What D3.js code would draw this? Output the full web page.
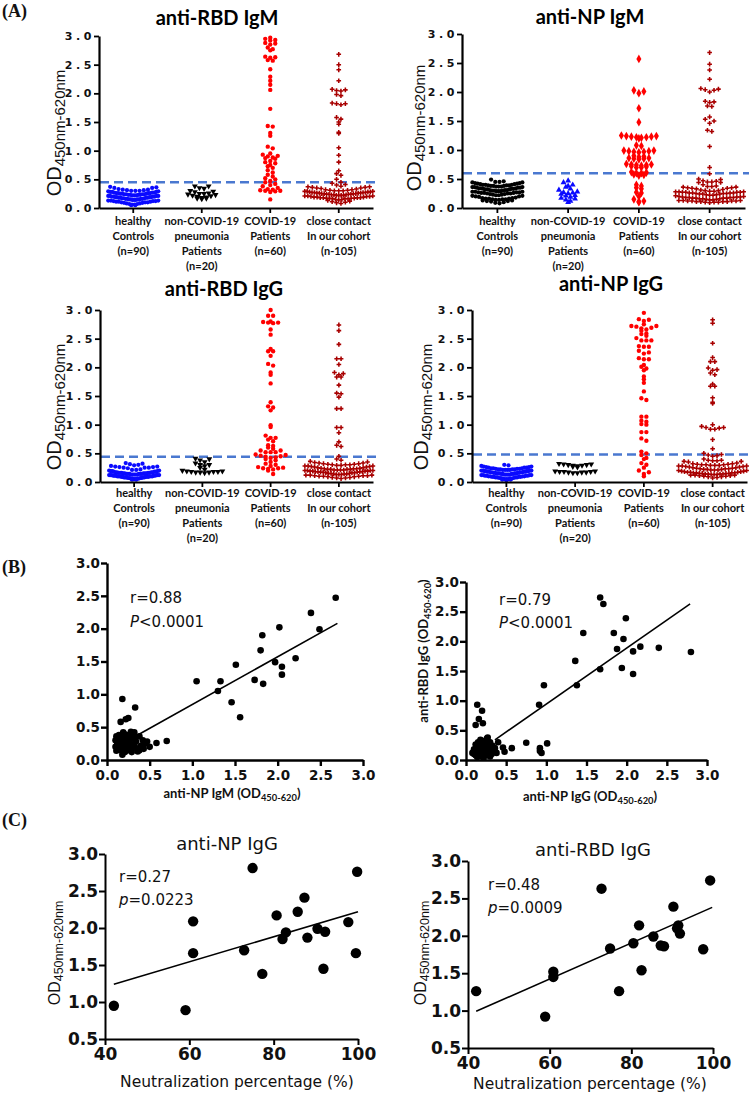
<!DOCTYPE html>
<html><head><meta charset="utf-8">
<script src="https://cdn.jsdelivr.net/npm/d3@7"></script>
<style>body{margin:0;background:#fff}svg{display:block}</style>
</head><body><script>
// ---------------- DATA ----------------
const categories = ["healthy", "nonCovid", "covid", "close"];
const catLabels = [
  ["healthy", "Controls", "(n=90)"],
  ["non-COVID-19", "pneumonia", "Patients", "(n=20)"],
  ["COVID-19", "Patients", "(n=60)"],
  ["close contact", "In our cohort", "(n-105)"]
];
const panelTitles = ["anti-RBD IgM", "anti-NP IgM", "anti-RBD IgG", "anti-NP IgG"];
const cutoffs = [0.45, 0.60, 0.44, 0.48];
const yTicksA = [0, 0.5, 1.0, 1.5, 2.0, 2.5, 3.0];

// anti-RBD IgM
const a1Healthy = [0.37,0.36,0.35,0.35,0.33,0.32,0.32,0.31,0.31,0.30,0.30,0.30,0.29,0.29,0.28,0.28,0.28,0.27,0.27,0.27,0.26,0.26,0.26,0.26,0.25,0.25,0.25,0.24,0.24,0.24,0.24,0.23,0.23,0.23,0.23,0.22,0.22,0.22,0.21,0.21,0.21,0.21,0.20,0.20,0.20,0.20,0.19,0.19,0.19,0.19,0.18,0.18,0.18,0.18,0.17,0.17,0.17,0.16,0.16,0.16,0.16,0.15,0.15,0.15,0.15,0.14,0.14,0.14,0.13,0.13,0.13,0.12,0.12,0.12,0.11,0.11,0.11,0.10,0.10,0.10,0.09,0.09,0.08,0.08,0.07,0.07,0.06,0.06,0.05,0.05];
const a1NonCovid = [0.38,0.38,0.35,0.34,0.30,0.29,0.28,0.26,0.25,0.25,0.24,0.23,0.22,0.21,0.20,0.19,0.18,0.17,0.17,0.16];
const a1Covid = [2.97,2.95,2.93,2.92,2.88,2.87,2.85,2.80,2.77,2.75,2.64,2.63,2.62,2.58,2.57,2.42,2.29,2.22,2.15,2.06,1.73,1.43,1.42,1.31,1.26,1.07,1.04,0.95,0.93,0.91,0.90,0.88,0.87,0.86,0.82,0.80,0.78,0.75,0.73,0.70,0.66,0.62,0.58,0.55,0.52,0.50,0.47,0.45,0.42,0.40,0.38,0.35,0.33,0.32,0.31,0.30,0.30,0.29,0.28,0.15];
const a1Close = [2.68,2.50,2.41,2.22,2.07,2.06,2.05,2.04,1.98,1.96,1.83,1.82,1.82,1.80,1.58,1.55,1.50,1.46,1.32,1.30,1.05,0.92,0.80,0.65,0.60,0.57,0.50,0.45,0.43,0.41,0.40,0.38,0.37,0.37,0.36,0.36,0.35,0.35,0.34,0.33,0.32,0.32,0.31,0.31,0.30,0.30,0.30,0.29,0.29,0.29,0.28,0.28,0.28,0.27,0.27,0.27,0.27,0.26,0.26,0.26,0.26,0.25,0.25,0.25,0.25,0.24,0.24,0.24,0.24,0.23,0.23,0.23,0.22,0.22,0.22,0.22,0.21,0.21,0.21,0.20,0.20,0.20,0.19,0.19,0.19,0.18,0.18,0.18,0.18,0.17,0.17,0.17,0.17,0.16,0.16,0.16,0.15,0.15,0.14,0.13,0.12,0.11,0.10,0.09,0.08];

// anti-NP IgM
const a2Healthy = [0.49,0.46,0.45,0.45,0.44,0.44,0.43,0.43,0.42,0.42,0.41,0.41,0.40,0.40,0.40,0.39,0.39,0.39,0.38,0.38,0.38,0.37,0.37,0.37,0.36,0.36,0.36,0.35,0.35,0.35,0.34,0.34,0.34,0.33,0.33,0.33,0.32,0.32,0.32,0.31,0.31,0.31,0.30,0.30,0.30,0.29,0.29,0.29,0.28,0.28,0.28,0.27,0.27,0.27,0.26,0.26,0.26,0.25,0.25,0.25,0.24,0.24,0.23,0.23,0.22,0.22,0.21,0.21,0.20,0.20,0.19,0.18,0.17,0.17,0.16,0.16,0.16,0.15,0.15,0.15,0.14,0.14,0.13,0.13,0.12,0.12,0.11,0.10,0.09,0.08];
const a2NonCovid = [0.47,0.44,0.40,0.38,0.36,0.33,0.31,0.28,0.27,0.26,0.25,0.24,0.22,0.21,0.19,0.17,0.16,0.14,0.12,0.10];
const a2Covid = [2.57,2.03,2.01,1.98,1.72,1.48,1.25,1.24,1.24,1.23,1.23,1.22,1.22,1.21,1.20,1.08,1.07,0.99,0.99,0.98,0.98,0.97,0.97,0.96,0.90,0.89,0.88,0.86,0.86,0.85,0.85,0.84,0.76,0.75,0.75,0.74,0.74,0.73,0.72,0.71,0.70,0.70,0.62,0.61,0.60,0.60,0.58,0.57,0.56,0.40,0.38,0.35,0.33,0.27,0.26,0.20,0.15,0.12,0.11,0.10];
const a2Close = [2.68,2.48,2.38,2.22,2.06,2.05,2.04,2.03,2.00,1.84,1.83,1.82,1.76,1.75,1.57,1.53,1.50,1.46,1.34,1.32,1.06,0.70,0.59,0.50,0.49,0.47,0.46,0.45,0.45,0.44,0.44,0.40,0.38,0.37,0.37,0.36,0.36,0.35,0.35,0.34,0.34,0.33,0.31,0.30,0.30,0.29,0.29,0.28,0.28,0.28,0.27,0.27,0.27,0.27,0.26,0.26,0.26,0.26,0.25,0.25,0.25,0.24,0.24,0.23,0.23,0.22,0.20,0.20,0.19,0.19,0.19,0.18,0.18,0.18,0.18,0.17,0.17,0.17,0.17,0.16,0.16,0.16,0.14,0.13,0.13,0.13,0.12,0.12,0.12,0.12,0.11,0.11,0.11,0.11,0.10,0.10,0.10,0.09,0.15,0.15,0.14,0.21,0.22,0.24,0.32];

// anti-RBD IgG
const a3Healthy = [0.33,0.32,0.31,0.30,0.29,0.28,0.27,0.27,0.26,0.26,0.25,0.25,0.25,0.24,0.22,0.21,0.21,0.20,0.20,0.19,0.19,0.19,0.18,0.18,0.18,0.17,0.17,0.17,0.17,0.16,0.16,0.16,0.16,0.15,0.15,0.15,0.15,0.15,0.14,0.14,0.14,0.14,0.14,0.13,0.13,0.13,0.13,0.13,0.12,0.12,0.12,0.12,0.12,0.11,0.11,0.11,0.11,0.11,0.10,0.10,0.10,0.10,0.10,0.10,0.09,0.09,0.09,0.09,0.09,0.08,0.08,0.08,0.08,0.08,0.07,0.07,0.07,0.07,0.06,0.06,0.06,0.06,0.05,0.05,0.05,0.04,0.04,0.12,0.14,0.16];
const a3NonCovid = [0.41,0.40,0.38,0.35,0.33,0.30,0.30,0.28,0.25,0.22,0.20,0.19,0.19,0.18,0.18,0.18,0.17,0.17,0.17,0.16];
const a3Covid = [3.00,2.90,2.90,2.80,2.79,2.78,2.78,2.77,2.66,2.57,2.32,2.28,2.28,2.20,2.06,2.03,1.91,1.87,1.72,1.39,1.32,1.30,1.25,0.99,0.96,0.81,0.77,0.77,0.74,0.71,0.64,0.63,0.60,0.58,0.55,0.55,0.52,0.52,0.52,0.48,0.47,0.46,0.45,0.44,0.43,0.42,0.40,0.38,0.35,0.32,0.30,0.28,0.26,0.25,0.24,0.24,0.23,0.22,0.20,0.14];
const a3Close = [2.74,2.64,2.40,2.15,2.15,2.05,1.91,1.89,1.87,1.83,1.83,1.69,1.55,1.54,1.48,1.28,1.28,0.95,0.95,0.86,0.70,0.64,0.62,0.45,0.40,0.38,0.36,0.35,0.34,0.33,0.33,0.32,0.32,0.31,0.31,0.30,0.30,0.30,0.29,0.29,0.28,0.28,0.28,0.27,0.27,0.26,0.26,0.25,0.25,0.24,0.24,0.23,0.23,0.23,0.22,0.22,0.22,0.22,0.21,0.21,0.21,0.21,0.20,0.20,0.20,0.20,0.19,0.19,0.19,0.19,0.18,0.18,0.18,0.18,0.17,0.17,0.17,0.16,0.16,0.16,0.15,0.15,0.15,0.14,0.14,0.14,0.13,0.13,0.13,0.12,0.12,0.12,0.11,0.11,0.11,0.10,0.10,0.10,0.09,0.09,0.08,0.08,0.07,0.07,0.06];

// anti-NP IgG
const a4Healthy = [0.30,0.29,0.28,0.27,0.27,0.26,0.26,0.25,0.25,0.25,0.24,0.24,0.24,0.23,0.23,0.23,0.22,0.22,0.22,0.22,0.21,0.21,0.21,0.21,0.20,0.20,0.20,0.20,0.19,0.19,0.19,0.19,0.18,0.18,0.18,0.18,0.17,0.17,0.17,0.17,0.16,0.16,0.16,0.16,0.15,0.15,0.15,0.15,0.14,0.14,0.14,0.14,0.13,0.13,0.13,0.13,0.12,0.12,0.12,0.12,0.11,0.11,0.11,0.11,0.10,0.10,0.10,0.10,0.09,0.09,0.09,0.09,0.08,0.08,0.08,0.08,0.07,0.07,0.07,0.06,0.06,0.06,0.05,0.05,0.05,0.04,0.04,0.03,0.13,0.15];
const a4NonCovid = [0.32,0.31,0.31,0.30,0.30,0.29,0.29,0.28,0.27,0.26,0.19,0.19,0.18,0.18,0.18,0.17,0.17,0.17,0.16,0.16];
const a4Covid = [2.95,2.84,2.83,2.81,2.75,2.72,2.72,2.71,2.69,2.68,2.66,2.64,2.59,2.58,2.55,2.51,2.47,2.47,2.47,2.37,2.36,2.36,2.29,2.26,2.24,2.16,2.14,2.14,2.04,2.01,1.98,1.95,1.84,1.79,1.73,1.58,1.46,1.43,1.14,1.14,1.07,1.05,1.01,1.00,0.87,0.87,0.76,0.72,0.53,0.47,0.42,0.40,0.33,0.30,0.25,0.20,0.17,0.14,0.10,0.50];
const a4Close = [2.83,2.77,2.42,2.17,2.10,2.10,1.99,1.96,1.95,1.90,1.87,1.71,1.67,1.67,1.47,1.39,1.37,1.00,0.97,0.95,0.95,0.94,0.92,0.92,0.74,0.58,0.50,0.48,0.47,0.46,0.45,0.40,0.38,0.38,0.37,0.37,0.36,0.36,0.35,0.33,0.32,0.32,0.31,0.31,0.30,0.30,0.30,0.29,0.29,0.29,0.28,0.28,0.28,0.27,0.27,0.26,0.26,0.25,0.25,0.24,0.24,0.23,0.23,0.23,0.22,0.22,0.22,0.21,0.21,0.21,0.20,0.20,0.19,0.19,0.18,0.18,0.17,0.17,0.17,0.16,0.16,0.16,0.16,0.15,0.15,0.15,0.15,0.14,0.14,0.14,0.14,0.13,0.13,0.13,0.12,0.12,0.12,0.11,0.11,0.10,0.10,0.09,0.09,0.08,0.07];

// Panel B: [x, y]
const b1Points = [[2.68,2.47],[2.39,2.24],[2.49,1.99],[2.02,2.02],[1.82,1.90],[1.80,1.67],[1.51,1.45],[1.97,1.49],[2.05,1.42],[2.21,1.55],[2.05,1.30],[1.83,1.16],[1.73,1.22],[1.33,1.20],[1.05,1.20],[1.30,1.05],[1.46,0.88],[1.56,0.65],
  [0.18,0.93],[0.33,0.80],[0.25,0.64],[0.22,0.62],[0.16,0.58],[0.58,0.26],[0.70,0.29],[0.50,0.20],[0.45,0.25],[0.42,0.30],[0.40,0.22],[0.38,0.15],[0.35,0.18],[0.33,0.35],[0.32,0.42],[0.30,0.40],[0.28,0.32],[0.27,0.25],[0.26,0.20],[0.25,0.15],[0.24,0.38],[0.22,0.30],[0.22,0.22],[0.21,0.12],[0.20,0.40],[0.20,0.33],[0.19,0.27],[0.18,0.20],[0.17,0.35],[0.16,0.15],[0.15,0.28],[0.14,0.22],[0.13,0.32],[0.12,0.18],[0.12,0.26],[0.11,0.14],[0.10,0.30],[0.10,0.20],[0.18,0.08],[0.29,0.12],[0.34,0.28],[0.36,0.13],[0.31,0.19],[0.24,0.27],[0.28,0.43],[0.14,0.38],[0.19,0.42],[0.26,0.35],[0.38,0.36],[0.43,0.17],[0.47,0.28],[0.32,0.24],[0.23,0.17],[0.17,0.24],[0.11,0.36]];
const b1FitX = [0.36, 2.70], b1FitY = [0.38, 2.08];
const b2Points = [[1.67,2.74],[1.71,2.63],[1.99,2.39],[1.46,2.14],[1.84,2.14],[1.96,2.04],[1.88,1.87],[2.08,1.83],[2.17,1.91],[2.40,1.89],[2.80,1.82],[1.36,1.67],[1.67,1.53],[1.94,1.55],[2.08,1.45],[1.38,1.26],[0.97,1.26],[0.91,0.93],
  [0.14,0.93],[0.20,0.83],[0.12,0.59],[0.16,0.69],[0.21,0.62],[0.75,0.29],[1.01,0.28],[0.92,0.20],[0.94,0.12],[0.92,0.15],[0.57,0.20],[0.48,0.14],[0.46,0.21],[0.40,0.30],
  [0.08,0.12],[0.10,0.18],[0.12,0.08],[0.13,0.22],[0.14,0.14],[0.15,0.30],[0.16,0.10],[0.17,0.18],[0.18,0.25],[0.19,0.06],[0.20,0.14],[0.21,0.32],[0.22,0.20],[0.23,0.10],[0.24,0.28],[0.25,0.16],[0.26,0.36],[0.27,0.08],[0.28,0.22],[0.29,0.13],[0.30,0.30],[0.31,0.18],[0.32,0.10],[0.33,0.24],[0.35,0.14],[0.36,0.20],[0.38,0.12],[0.18,0.34],[0.12,0.26],[0.10,0.10],[0.22,0.04],[0.27,0.38],[0.14,0.05],[0.30,0.06],[0.20,0.24]];
const b2FitX = [0.36, 2.79], b2FitY = [0.34, 2.63];
const bTicks = [0, 0.5, 1.0, 1.5, 2.0, 2.5, 3.0];

// Panel C: [neutralization %, OD]
const c1Points = [[42.1,0.95],[59.1,0.89],[60.9,2.09],[60.9,1.66],[75.0,2.81],[73.0,1.70],[77.3,1.38],[80.7,2.17],[82.9,1.94],[82.1,1.85],[85.7,2.22],[87.3,2.41],[88.0,1.87],[90.4,1.99],[92.2,1.95],[91.8,1.45],[97.7,2.08],[99.5,1.66],[99.8,2.76]];
const c1FitX = [42.1, 100], c1FitY = [1.24, 2.22];
const c2Points = [[42.0,1.26],[58.9,0.92],[60.9,1.52],[60.9,1.45],[72.7,2.63],[74.8,1.83],[77.0,1.26],[80.5,1.90],[81.9,2.14],[82.5,1.54],[85.4,1.99],[87.2,1.87],[88.0,1.86],[90.3,2.39],[91.5,2.14],[91.9,2.03],[97.6,1.82],[99.3,2.74],[91.2,2.10]];
const c2FitX = [42.0, 99.8], c2FitY = [0.99, 2.38];
const cXTicks = [40, 60, 80, 100];
const cYTicks = [0.5, 1.0, 1.5, 2.0, 2.5, 3.0];

// ---------------- DRAW ----------------
const svg = d3.select("body").append("svg").attr("width", 750).attr("height", 1093)
  .style("background", "#fff");

const BLUE = "#0a0aff", RED = "#ff0000", DARKRED = "#a80000", BLACK = "#000";

function swarm(values, y, cx, maxW, binPx, step) {
  const pts = values.map(v => ({ v, py: y(v) }));
  const bins = d3.group(pts, p => Math.round(p.py / binPx));
  const out = [];
  for (const [, arr] of bins) {
    arr.sort((a, b) => a.v - b.v);
    const n = arr.length;
    const s = n > 1 ? Math.min(step, maxW / (n - 1)) : 0;
    arr.forEach((p, i) => {
      let off;
      if (n % 2 === 1) { const k = Math.ceil(i / 2); off = i === 0 ? 0 : (i % 2 === 1 ? k : -k); }
      else { const k = Math.floor(i / 2) + 0.5; off = i % 2 === 0 ? k : -k; }
      out.push({ x: cx + off * s, y: p.py });
    });
  }
  return out;
}

function panelA(cfg) {
  const g = svg.append("g");
  const y = d3.scaleLinear().domain([0, 3]).range([cfg.yBot, cfg.yTop]);
  const x = d3.scaleBand().domain(categories).range([cfg.x0, cfg.x1]);

  g.append("line").attr("x1", cfg.x0 + 1).attr("x2", cfg.x1 + 4)
    .attr("y1", y(cfg.cutoff)).attr("y2", y(cfg.cutoff))
    .attr("stroke", "#4a78d0").attr("stroke-width", 2.6).attr("stroke-dasharray", "9,5");

  cfg.groups.forEach((grp, i) => {
    const cx = x(categories[i]) + x.bandwidth() / 2;
    const pts = swarm(grp.values, y, cx, grp.maxW, grp.bin || 4, grp.step);
    g.append("g").selectAll("path").data(pts).join("path")
      .attr("transform", d => `translate(${d.x},${d.y})${grp.down ? " rotate(180)" : ""}`)
      .attr("d", d3.symbol().type(grp.type).size(grp.size))
      .attr("fill", grp.color);
  });

  const ya = g.append("g").attr("transform", `translate(${cfg.x0},0)`)
    .call(d3.axisLeft(y).tickValues(yTicksA).tickFormat(d3.format(".1f")).tickSize(5).tickSizeOuter(0).tickPadding(0));
  ya.select(".domain").attr("stroke-width", 2.2);
  ya.selectAll(".tick line").attr("stroke-width", 1.8);
  ya.selectAll(".tick text").attr("font-family", "DejaVu Sans").attr("font-weight", "bold")
    .attr("font-size", 11).attr("letter-spacing", "3.6px").attr("dx", "1px").attr("fill", "#111");

  const xa = g.append("g").attr("transform", `translate(0,${cfg.yBot})`)
    .call(d3.axisBottom(x).tickFormat("").tickSize(5).tickSizeOuter(0));
  xa.select(".domain").attr("stroke-width", 2.2);
  xa.selectAll(".tick line").attr("stroke-width", 1.8);

  catLabels.forEach((lines, i) => {
    const cx = x(categories[i]) + x.bandwidth() / 2;
    lines.forEach((s, j) => {
      g.append("text").attr("x", cx).attr("y", cfg.yBot + cfg.labOff + j * 15)
        .attr("text-anchor", "middle").attr("font-family", "Lato").attr("font-weight", "bold")
        .attr("font-size", 11).attr("fill", "#111").text(s);
    });
  });

  g.append("text").attr("x", cfg.titleX).attr("y", cfg.titleY).attr("text-anchor", "middle")
    .attr("font-family", "Lato").attr("font-weight", "bold").attr("font-size", 20).text(cfg.title);

  const t = g.append("text").attr("transform", `translate(${cfg.ylx},${cfg.yly}) rotate(-90)`)
    .attr("text-anchor", "middle").attr("font-family", "Liberation Sans").attr("font-size", 20).attr("fill", "#111");
  t.append("tspan").text("OD");
  t.append("tspan").attr("font-size", 15).attr("dy", 4).text("450nm-620nm");
}

function groupsFor(h, nc, cv, cc, npIgM) {
  return [
    { values: h, type: d3.symbolCircle, size: 14, color: npIgM ? BLACK : BLUE, maxW: 50, step: 4.2, bin: 4.5 },
    { values: nc, type: d3.symbolTriangle, size: 15, color: npIgM ? BLUE : BLACK, down: !npIgM, maxW: 40, step: 4.6 },
    { values: cv, type: npIgM ? d3.symbolDiamond : d3.symbolCircle, size: npIgM ? 22 : 15, color: RED, maxW: 42, step: 5 },
    { values: cc, type: d3.symbolCross, size: 12, color: DARKRED, maxW: 68, step: 4.4, bin: 4.5 }
  ];
}

panelA({ x0: 99, x1: 373, yTop: 36, yBot: 208, cutoff: cutoffs[0], title: panelTitles[0], titleX: 217, titleY: 25,
  labOff: 17, ylx: 61, yly: 133, groups: groupsFor(a1Healthy, a1NonCovid, a1Covid, a1Close, false) });
panelA({ x0: 462, x1: 745, yTop: 34, yBot: 208, cutoff: cutoffs[1], title: panelTitles[1], titleX: 590, titleY: 24,
  labOff: 17, ylx: 421, yly: 128, groups: groupsFor(a2Healthy, a2NonCovid, a2Covid, a2Close, true) });
panelA({ x0: 100, x1: 373, yTop: 310, yBot: 482, cutoff: cutoffs[2], title: panelTitles[2], titleX: 224, titleY: 296,
  labOff: 15, ylx: 61, yly: 407, groups: groupsFor(a3Healthy, a3NonCovid, a3Covid, a3Close, false) });
panelA({ x0: 472, x1: 747, yTop: 310, yBot: 482, cutoff: cutoffs[3], title: panelTitles[3], titleX: 611, titleY: 291,
  labOff: 15, ylx: 428, yly: 407, groups: groupsFor(a4Healthy, a4NonCovid, a4Covid, a4Close, false) });

function scatter(cfg) {
  const g = svg.append("g");
  const x = d3.scaleLinear().domain(cfg.xDom).range([cfg.x0, cfg.x1]);
  const y = d3.scaleLinear().domain(cfg.yDom).range([cfg.yBot, cfg.yTop]);

  g.append("line").attr("x1", x(cfg.fitX[0])).attr("x2", x(cfg.fitX[1]))
    .attr("y1", y(cfg.fitY[0])).attr("y2", y(cfg.fitY[1]))
    .attr("stroke", "#000").attr("stroke-width", 1.6);

  g.append("g").selectAll("circle").data(cfg.points).join("circle")
    .attr("cx", d => x(d[0])).attr("cy", d => y(d[1])).attr("r", cfg.r).attr("fill", "#000");

  const xa = g.append("g").attr("transform", `translate(0,${cfg.yBot})`)
    .call(d3.axisBottom(x).tickValues(cfg.xTicks).tickFormat(cfg.xFmt).tickSize(6).tickSizeOuter(0).tickPadding(cfg.xPad));
  const ya = g.append("g").attr("transform", `translate(${cfg.x0},0)`)
    .call(d3.axisLeft(y).tickValues(cfg.yTicks).tickFormat(d3.format(".1f")).tickSize(6).tickSizeOuter(0).tickPadding(1));
  [xa, ya].forEach(a => {
    a.select(".domain").attr("stroke-width", cfg.axW);
    a.selectAll(".tick line").attr("stroke-width", cfg.axW);
    a.selectAll(".tick text").attr("font-family", "DejaVu Sans").attr("font-weight", "bold")
      .attr("font-size", cfg.tickFs).attr("fill", "#111");
  });
}

// Panel B
scatter({ xDom: [0, 3], yDom: [0, 3], x0: 107, x1: 363, yTop: 563, yBot: 760, points: b1Points, r: 3.3,
  fitX: b1FitX, fitY: b1FitY, xTicks: bTicks, yTicks: bTicks, xFmt: d3.format(".1f"), xPad: 4, axW: 2.4, tickFs: 13.5 });
scatter({ xDom: [0, 3], yDom: [0, 3], x0: 466, x1: 707, yTop: 582, yBot: 760, points: b2Points, r: 3.3,
  fitX: b2FitX, fitY: b2FitY, xTicks: bTicks, yTicks: bTicks, xFmt: d3.format(".1f"), xPad: 4, axW: 2.4, tickFs: 13.5 });
// Panel C
scatter({ xDom: [40, 100], yDom: [0.5, 3], x0: 105, x1: 358, yTop: 854, yBot: 1039, points: c1Points, r: 5.2,
  fitX: c1FitX, fitY: c1FitY, xTicks: cXTicks, yTicks: cYTicks, xFmt: d3.format("d"), xPad: 3, axW: 2, tickFs: 17 });
scatter({ xDom: [40, 100], yDom: [0.5, 3], x0: 468, x1: 713, yTop: 861, yBot: 1048, points: c2Points, r: 5.2,
  fitX: c2FitX, fitY: c2FitY, xTicks: cXTicks, yTicks: cYTicks, xFmt: d3.format("d"), xPad: 3, axW: 2, tickFs: 17 });

// Texts
function txt(x, y, s, opts = {}) {
  return svg.append("text").attr("x", x).attr("y", y).text(s)
    .attr("font-family", opts.ff || "DejaVu Sans").attr("font-size", opts.fs || 15)
    .attr("font-weight", opts.fw || "normal").attr("text-anchor", opts.anchor || "start").attr("fill", "#111");
}
// panel letters
txt(2, 17, "(A)", { ff: "Liberation Serif", fs: 18, fw: "bold" });
txt(2, 573, "(B)", { ff: "Liberation Serif", fs: 18, fw: "bold" });
txt(2, 826, "(C)", { ff: "Liberation Serif", fs: 18, fw: "bold" });

// B stats
txt(130, 603, "r=0.88");
const p1 = txt(130, 627, ""); p1.append("tspan").attr("font-style", "italic").text("P"); p1.append("tspan").text("<0.0001");
txt(499, 605, "r=0.79");
const p2 = txt(499, 628, ""); p2.append("tspan").attr("font-style", "italic").text("P"); p2.append("tspan").text("<0.0001");

// B axis labels
function subLabel(x, y, pre, sub, post, rot, fs) {
  const t = svg.append("text").attr("transform", `translate(${x},${y})${rot ? " rotate(-90)" : ""}`)
    .attr("text-anchor", "middle").attr("font-family", "Lato").attr("font-weight", "bold").attr("font-size", fs).attr("fill", "#111");
  t.append("tspan").text(pre);
  t.append("tspan").attr("font-size", fs * 0.72).attr("dy", 3).text(sub);
  t.append("tspan").attr("dy", -3).text(post);
}
subLabel(232, 798, "anti-NP IgM (OD", "450-620", ")", false, 13);
subLabel(590, 801, "anti-NP IgG (OD", "450-620", ")", false, 13);
subLabel(428, 651, "anti-RBD IgG (OD", "450-620", ")", true, 13);

// C titles and stats
txt(227, 850, "anti-NP IgG", { fs: 18, anchor: "middle" });
txt(593, 856, "anti-RBD IgG", { fs: 18, anchor: "middle" });
txt(119, 882, "r=0.27");
const p3 = txt(119, 905, ""); p3.append("tspan").attr("font-style", "italic").text("p"); p3.append("tspan").text("=0.0223");
txt(488, 890, "r=0.48");
const p4 = txt(488, 913, ""); p4.append("tspan").attr("font-style", "italic").text("p"); p4.append("tspan").text("=0.0009");
txt(237, 1087, "Neutralization percentage (%)", { fs: 15.5, anchor: "middle" });
txt(590, 1089, "Neutralization percentage (%)", { fs: 15.5, anchor: "middle" });

function odLabel(x, y) {
  const t = svg.append("text").attr("transform", `translate(${x},${y}) rotate(-90)`)
    .attr("text-anchor", "middle").attr("font-family", "Liberation Sans").attr("font-size", 16).attr("fill", "#111");
  t.append("tspan").text("OD");
  t.append("tspan").attr("font-size", 12.5).attr("dy", 3).text("450nm-620nm");
}
odLabel(60, 953);
odLabel(426, 953);
</script></body></html>
